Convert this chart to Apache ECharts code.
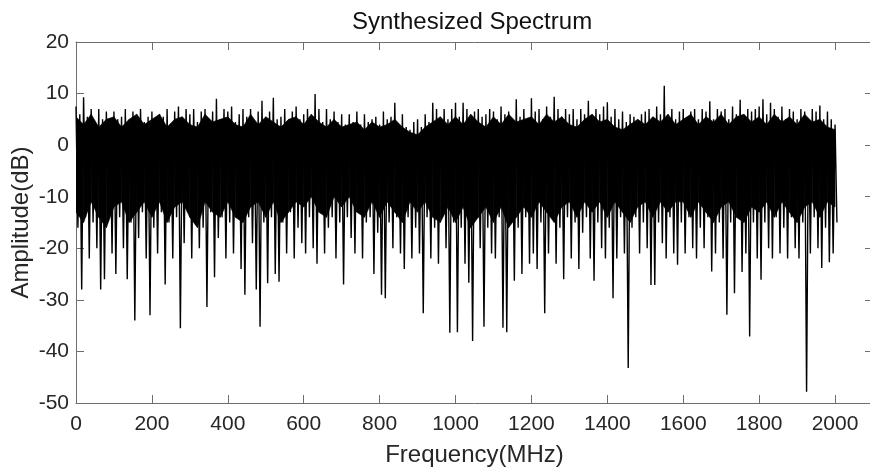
<!DOCTYPE html>
<html>
<head>
<meta charset="utf-8">
<script src="https://cdn.jsdelivr.net/npm/echarts@6/dist/echarts.min.js"></script>
<style>
  html, body { margin: 0; padding: 0; overflow: hidden; background: #fff; }
  #main { width: 880px; height: 471px; }
</style>
</head>
<body>
<div id="main"></div>
<script>
// spectrum: peak/dip per 10 MHz bin + solid core per 20 MHz
var binStep = 10;   // MHz
var coreStep = 20;  // MHz

// peak value in each bin (at f = 10*i)
var upper = [
  7.5, 6, 9.3, 5.5, 7, 4.5, 7, 5, 6.5, 4.5,
  6.5, 5, 5.5, 7, 4, 6.5, 5, 7, 4.5, 5.5,
  6.5, 4.5, 6, 5.5, 7, 4, 6.5, 7.5, 5, 7,
  6, 7, 4.5, 6.5, 7, 5, 6.5, 9, 5, 7,
  6.5, 7.5, 4.5, 6, 7, 5.5, 7, 4.5, 6.5, 8.6,
  5, 6.5, 9.2, 5, 5.5, 7, 4.5, 6.5, 7.5, 5,
  6, 7, 5, 9.9, 7, 4.5, 7, 5, 6.5, 4.5,
  6, 4, 6, 4.5, 6.5, 4, 6, 4.5, 5, 5.5,
  4, 6.5, 5, 5.5, 8.2, 4, 6, 3.5, 3, 4.5,
  5, 3.5, 6, 4.5, 8.2, 7, 5, 7, 5, 7,
  8.2, 5.5, 8.2, 7, 5, 6.5, 7, 5.5, 6, 7,
  6.5, 5, 7.5, 6, 6.5, 4.5, 8.9, 5.5, 7, 5,
  9.1, 6.5, 7, 5, 7.5, 5.5, 9.4, 7, 5.5, 7,
  6, 7, 5, 7, 6, 8.6, 5, 7, 6, 7.5,
  8.3, 5.5, 7, 5, 6.5, 4.5, 6, 5.5, 4.5, 6,
  6.5, 7, 5, 7.5, 6, 11.5, 5.5, 7, 5, 6.5,
  7, 5, 6.5, 7, 5, 7, 6.5, 8.5, 5, 7,
  6.5, 7, 5, 7.5, 6, 8.8, 5, 7, 6.5, 7,
  7.5, 8.9, 6, 8.2, 7, 5.5, 7.5, 5, 7, 6.5,
  5, 7, 6.5, 5, 7, 6.5, 7.7, 5, 6.5, 5,
  4
];

// dip value in each bin (at f = 10*i + 5)
var lower = [
  -16, -28, -14, -22, -15, -20, -28, -26, -13, -21,
  -25, -14, -20, -26, -15, -34, -18, -13, -22, -33,
  -16, -21, -13, -27, -15, -22, -14, -35.5, -19, -13,
  -22, -14, -20, -16, -31.4, -13, -25.6, -18, -14, -22,
  -15, -21, -13, -24, -29, -14, -19, -28, -35.2, -15,
  -26.8, -14, -25, -26.5, -15, -21, -13, -22, -16, -19,
  -21, -14, -20, -23, -13, -21, -16, -14, -22, -15,
  -27, -14, -18, -21, -13, -22, -15, -14, -25, -17,
  -29, -29.7, -15, -20, -14, -21, -24, -14, -22, -16,
  -21, -32.6, -14, -22, -16, -23, -14, -20, -36.4, -15,
  -36.3, -16, -23, -26.7, -38, -14, -20, -35.2, -16, -21,
  -22, -14, -35.4, -36.3, -15, -26.3, -16, -25, -14, -23,
  -21, -24, -15, -32.6, -21, -14, -23, -16, -26, -14,
  -22, -15, -24, -17, -14, -22, -26.3, -15, -20, -22,
  -16, -29.7, -22, -14, -21, -43.2, -16, -14, -21, -15,
  -20, -27.1, -27.1, -15, -19, -22, -14, -21, -23.2, -15,
  -21, -14, -20, -22, -16, -20, -14, -24.5, -21, -15,
  -22, -32.9, -15, -28.7, -14, -24.6, -21, -37.1, -15, -22,
  -26.1, -15, -20, -22, -14, -21, -16, -22, -14, -20,
  -22, -15, -47.8, -21, -14, -20, -23.8, -16, -22.7, -21,
  -15
];

// top / bottom of the solid black core (at f = 20*i)
var coreTop = [
  5.5, 4, 6, 3.5, 5, 5.5, 3.5, 5, 6, 4,
  5, 6, 3.5, 5, 5.5, 4, 3.5, 6, 4.5, 5,
  5.5, 4, 3.5, 6, 4, 5.5, 4.5, 3.5, 5, 5.5,
  4, 6, 4.5, 3.5, 5, 3.5, 4, 4.5, 3, 4.5,
  3.5, 4, 5, 3.5, 2.5, 2, 3.5, 4.5, 5.5, 4,
  5.5, 4, 6, 4.5, 3.5, 5.5, 4, 6, 4.5, 5,
  5.5, 4, 6, 4.5, 5.5, 4, 3.5, 5, 6, 4.5,
  5, 3.5, 3, 4, 5, 4, 5.5, 4.5, 6, 4,
  5, 6, 4, 5.5, 4.5, 6, 4, 5.5, 6, 4.5,
  5.5, 4, 6, 4.5, 5.5, 4, 6, 4.5, 5, 3.5,
  3
];
var coreBottom = [
  -13, -15, -11, -14, -16, -12, -11, -15, -13, -11,
  -14, -11, -15, -12, -11, -14, -16, -11, -13, -14,
  -11, -14, -15, -12, -11, -14, -11, -15, -13, -11,
  -12, -10, -13, -14, -10, -12, -10, -13, -14, -11,
  -14, -11, -13, -15, -11, -13, -11, -14, -15, -12,
  -15, -12, -16, -14, -12, -15, -12, -16, -14, -12,
  -14, -11, -13, -15, -12, -11, -14, -11, -13, -11,
  -14, -11, -13, -15, -12, -11, -14, -11, -13, -11,
  -11, -14, -11, -13, -15, -12, -11, -14, -15, -12,
  -13, -11, -14, -11, -13, -15, -12, -11, -14, -11,
  -12
];

var spectrum = [];
for (var i = 0; i < upper.length; i++) {
  spectrum.push([i * binStep, upper[i]]);
  spectrum.push([i * binStep + binStep / 2, lower[i]]);
}
var coreData = [];
for (var j = 0; j < coreTop.length - 1; j++) {
  coreData.push([j * coreStep, coreTop[j], coreBottom[j], (j + 1) * coreStep, coreTop[j + 1], coreBottom[j + 1]]);
}

function renderCore(params, api) {
  var a = api.coord([api.value(0), api.value(1)]);
  var b = api.coord([api.value(3), api.value(4)]);
  var c = api.coord([api.value(3), api.value(5)]);
  var d = api.coord([api.value(0), api.value(2)]);
  return {
    type: 'polygon',
    shape: { points: [a, b, c, d] },
    style: { fill: '#000', stroke: '#000', lineWidth: 0.6 }
  };
}

var font = 'Liberation Sans, Arial, Helvetica, sans-serif';
var textCol = '#262626';
var axisCol = '#6e6e6e';
var fmt = function (v) { return String(v); };

var myChart = echarts.init(document.getElementById('main'));
myChart.setOption({
  animation: false,
  backgroundColor: '#fff',
  title: {
    text: 'Synthesized Spectrum',
    left: 352,
    top: 10,
    padding: 0,
    textStyle: { fontFamily: font, fontSize: 24, fontWeight: 'normal', color: '#111' }
  },
  grid: { left: 76, right: 7, top: 42, bottom: 68, outerBoundsMode: 'none', containLabel: false },
  xAxis: [{
    type: 'value',
    min: 0, max: 2100, interval: 200,
    name: 'Frequency(MHz)',
    nameLocation: 'middle',
    nameGap: 40,
    nameMoveOverlap: false,
    nameTextStyle: { fontFamily: font, fontSize: 24, color: textCol },
    axisLine: { onZero: false, lineStyle: { color: axisCol, width: 1 } },
    axisTick: { inside: true, length: 8, lineStyle: { color: axisCol } },
    axisLabel: {
      showMaxLabel: false, margin: 11, formatter: fmt,
      fontFamily: font, fontSize: 21, color: textCol
    },
    splitLine: { show: false }
  }, {
    type: 'value', position: 'top',
    min: 0, max: 2100, interval: 200,
    axisLine: { show: true, onZero: false, lineStyle: { color: axisCol } },
    axisTick: { inside: true, length: 8, lineStyle: { color: axisCol } },
    axisLabel: { show: false },
    splitLine: { show: false }
  }],
  yAxis: [{
    type: 'value',
    min: -50, max: 20, interval: 10,
    name: 'Amplitude(dB)',
    nameLocation: 'middle',
    nameGap: 43,
    nameMoveOverlap: false,
    nameTextStyle: { fontFamily: font, fontSize: 24, color: textCol },
    axisLine: { show: true, onZero: false, lineStyle: { color: axisCol } },
    axisTick: { show: true, inside: true, length: 8, lineStyle: { color: axisCol } },
    axisLabel: { margin: 7, formatter: fmt, fontFamily: font, fontSize: 21, color: textCol },
    splitLine: { show: false }
  }, {
    type: 'value', position: 'right',
    min: -50, max: 20, interval: 10,
    axisLine: { show: true, onZero: false, lineStyle: { color: axisCol } },
    axisTick: { show: true, inside: true, length: 8, lineStyle: { color: axisCol } },
    axisLabel: { show: false },
    splitLine: { show: false }
  }],
  series: [{
    name: 'core',
    type: 'custom',
    renderItem: renderCore,
    data: coreData,
    encode: { x: [0, 3], y: [1, 2, 4, 5] },
    clip: true
  }, {
    name: 'spectrum',
    type: 'line',
    data: spectrum,
    symbol: 'none',
    sampling: null,
    lineStyle: { color: '#000', width: 1.4 }
  }]
});
</script>
</body>
</html>
